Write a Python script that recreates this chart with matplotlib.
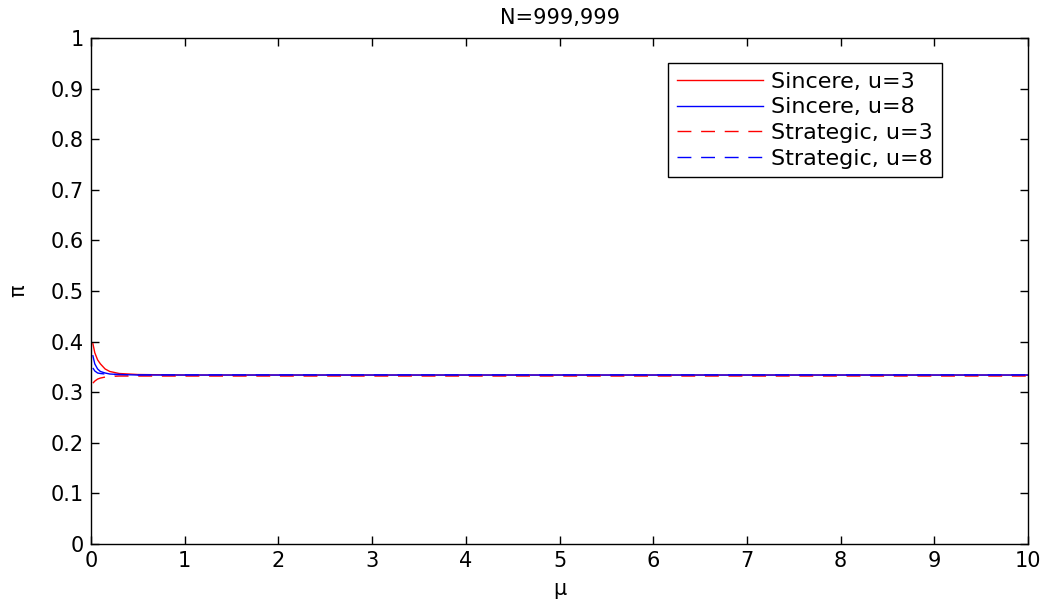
import numpy as np
import matplotlib.pyplot as plt

plt.rcParams['font.family'] = ['DejaVu Sans']

# values
mu = [0.02, 0.04, 0.07, 0.1, 0.15, 0.2, 0.3, 0.5, 1, 2, 5, 10]
sincere_u3 = [0.396, 0.378, 0.364, 0.356, 0.346, 0.341, 0.337, 0.335, 0.334, 0.334, 0.334, 0.334]
sincere_u8 = [0.372, 0.356, 0.346, 0.341, 0.338, 0.336, 0.335, 0.334, 0.334, 0.334, 0.334, 0.334]
strategic_u3 = [0.318, 0.322, 0.326, 0.328, 0.330, 0.331, 0.332, 0.332, 0.332, 0.332, 0.332, 0.332]
strategic_u8 = [0.348, 0.342, 0.338, 0.337, 0.336, 0.335, 0.335, 0.334, 0.334, 0.334, 0.334, 0.334]

fig = plt.figure(figsize=(10.44, 6.04), dpi=100)
ax = fig.add_axes([0.0872, 0.0993, 0.8975, 0.8377])

dash = (0, (10, 7))
ax.plot(mu, sincere_u3, color='red', lw=1, label='Sincere, u=3')
ax.plot(mu, sincere_u8, color='blue', lw=1, label='Sincere, u=8')
ax.plot(mu, strategic_u3, color='red', lw=1, ls=dash, label='Strategic, u=3')
ax.plot(mu, strategic_u8, color='blue', lw=1, ls=dash, label='Strategic, u=8')

ax.set_xlim(0, 10)
ax.set_ylim(0, 1)
ax.set_xticks(np.arange(0, 11, 1))
ax.set_yticks(np.arange(0, 1.01, 0.1))
ax.set_yticklabels(['0', '0.1', '0.2', '0.3', '0.4', '0.5', '0.6', '0.7', '0.8', '0.9', '1'])
ax.tick_params(direction='in', top=True, right=True, length=6, labelsize=15, width=1, pad=5)
for s in ax.spines.values():
    s.set_linewidth(1)

ax.set_title('N=999,999', fontsize=15, pad=10)
ax.set_xlabel('\u03bc', fontsize=15, labelpad=6)
ax.set_ylabel('\u03c0', fontsize=15, labelpad=16)

leg = ax.legend(loc='upper right', bbox_to_anchor=(0.908, 0.9506), fontsize=16,
                fancybox=False, edgecolor='black', framealpha=1,
                handlelength=3.9, borderpad=0.4, labelspacing=0.25, handletextpad=0.35,
                borderaxespad=0)
leg.get_frame().set_linewidth(1)

fig.savefig('out.png', dpi=100)
